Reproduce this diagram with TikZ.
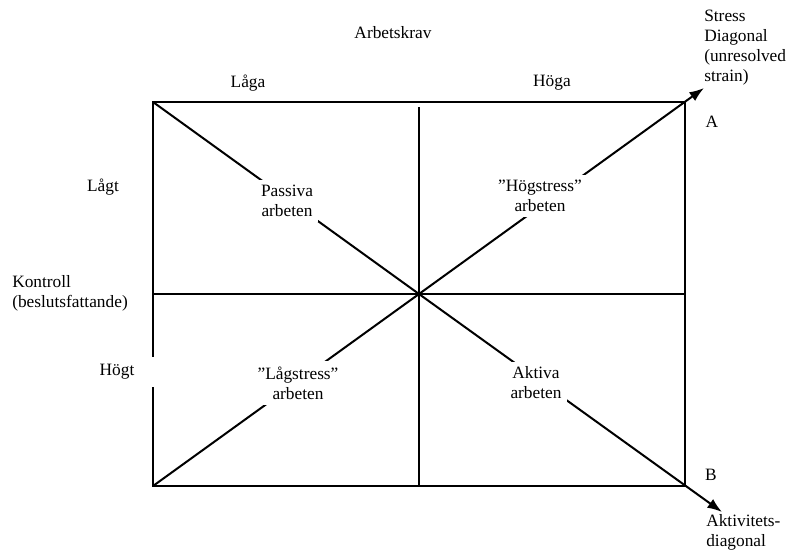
\documentclass[tikz,border=0pt]{standalone}
\usepackage{fontspec}
\setmainfont{Liberation Serif}
\usetikzlibrary{arrows.meta}

\begin{document}
\begin{tikzpicture}[x=0.75pt,y=-0.75pt,
 txt/.style={font=\fontsize{13}{15}\selectfont,align=center,inner sep=0pt},
 cell/.style={txt,fill=white,inner sep=4pt},
 edge/.style={line width=1.5pt},
 diag/.style={edge,-{Latex[length=11pt,width=8pt]}}]
 \useasboundingbox (0,0) rectangle (786,551);

 \coordinate (TL) at (153,102); \coordinate (TR) at (685,102);
 \coordinate (BL) at (153,486); \coordinate (BR) at (685,486);
 \coordinate (C) at (419,294);
 \coordinate (Ctop) at (419,107); \coordinate (Cbot) at (419,486);
 \coordinate (Lmid) at (153,294); \coordinate (Rmid) at (685,294);
 \coordinate (Atip) at (704,88); \coordinate (Btip) at (722,512);

 % frame and quadrants
 \draw[edge] (BL) -- (TL) -- (TR) -- (BR) -- cycle;
 \draw[edge] (Ctop) -- (Cbot);
 \draw[edge] (Lmid) -- (Rmid);

 % diagonals
 \draw[edge] (TL) -- (C);
 \draw[edge] (BL) -- (C);
 \draw[diag] (C) -- (Atip);
 \draw[diag] (C) -- (Btip);

 % quadrant labels
 \node[cell] (passiva) at (287,201) {Passiva\\arbeten};
 \node[cell] (hogstress) at (540,196) {”Högstress”\\arbeten};
 \node[cell] (lagstress) at (298,383) {”Lågstress”\\arbeten};
 \node[cell] (aktiva) at (536,383) {Aktiva\\arbeten};

 % axes
 \node[txt] (arbetskrav) at (393,33) {Arbetskrav};
 \node[txt] (laga) at (248,83) {Låga};
 \node[txt] (hoga) at (552,83) {Höga};
 \node[txt] (lagt) at (103,187) {Lågt};
 \node[txt,align=left,anchor=west] (kontroll) at (12,293) {Kontroll\\(beslutsfattande)};
 \node[txt,fill=white,text width=42pt,align=left,minimum height=22pt,anchor=east]
 (hogt) at (156,372) {Högt};

 % diagonal ends
 \node[txt] (A) at (712,122) {A};
 \node[txt] (B) at (711,475) {B};
 \node[txt,align=left,anchor=west] (stress) at (704,48)
 {Stress\\Diagonal\\(unresolved\\strain)};
 \node[txt,align=left,anchor=north west] (aktivitet) at (706,514)
 {Aktivitets-\\diagonal};
\end{tikzpicture}
\end{document}
